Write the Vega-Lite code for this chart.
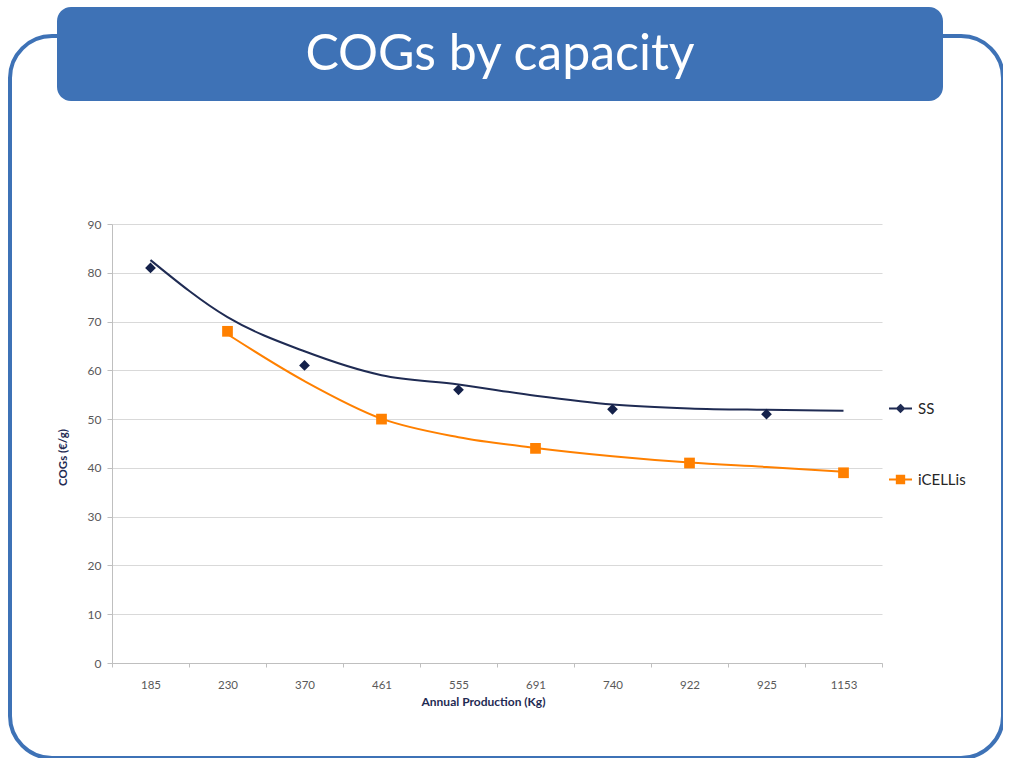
{
  "$schema": "https://vega.github.io/schema/vega-lite/v6.json",
  "background": "white",
  "padding": {"left": 10, "top": 7, "right": 0, "bottom": 0},
  "datasets": {
    "header": [{"title": "COGs by capacity"}],
    "points": [
      {"series": "SS", "production": "185", "cogs": 81},
      {"series": "SS", "production": "370", "cogs": 61},
      {"series": "SS", "production": "555", "cogs": 56},
      {"series": "SS", "production": "740", "cogs": 52},
      {"series": "SS", "production": "925", "cogs": 51},
      {"series": "iCELLis", "production": "230", "cogs": 68},
      {"series": "iCELLis", "production": "461", "cogs": 50},
      {"series": "iCELLis", "production": "691", "cogs": 44},
      {"series": "iCELLis", "production": "922", "cogs": 41},
      {"series": "iCELLis", "production": "1153", "cogs": 39}
    ],
    "trend": [
      {"series": "SS", "production": "185", "cogs": 82.6},
      {"series": "SS", "production": "230", "cogs": 70.9},
      {"series": "SS", "production": "370", "cogs": 63.9},
      {"series": "SS", "production": "461", "cogs": 59.0},
      {"series": "SS", "production": "555", "cogs": 57.1},
      {"series": "SS", "production": "691", "cogs": 54.8},
      {"series": "SS", "production": "740", "cogs": 53.0},
      {"series": "SS", "production": "922", "cogs": 52.2},
      {"series": "SS", "production": "925", "cogs": 51.9},
      {"series": "SS", "production": "1153", "cogs": 51.7},
      {"series": "iCELLis", "production": "230", "cogs": 67.4},
      {"series": "iCELLis", "production": "370", "cogs": 57.8},
      {"series": "iCELLis", "production": "461", "cogs": 50.1},
      {"series": "iCELLis", "production": "555", "cogs": 46.3},
      {"series": "iCELLis", "production": "691", "cogs": 44.1},
      {"series": "iCELLis", "production": "740", "cogs": 42.4},
      {"series": "iCELLis", "production": "922", "cogs": 41.1},
      {"series": "iCELLis", "production": "925", "cogs": 40.2},
      {"series": "iCELLis", "production": "1153", "cogs": 39.2}
    ]
  },
  "width": 993,
  "height": 722,
  "view": {"stroke": "#3E72B6", "strokeWidth": 4, "cornerRadius": 42, "fill": null},
  "layer": [
    {
      "data": {"name": "header"},
      "encoding": {
        "x": {"field": "title", "type": "nominal", "scale": {"type": "band", "range": [47, 933], "paddingInner": 0, "paddingOuter": 0}, "axis": null},
        "y": {"field": "title", "type": "nominal", "scale": {"type": "band", "range": [-29, 65], "paddingInner": 0, "paddingOuter": 0}, "axis": null}
      },
      "layer": [
        {"mark": {"type": "rect", "color": "#3E72B6", "cornerRadius": 14}},
        {"mark": {"type": "text", "font": "Lato", "fontSize": 50, "color": "white", "baseline": "middle", "align": "center", "dy": 1}, "encoding": {"text": {"field": "title"}}}
      ]
    },
    {
      "layer": [
        {
          "data": {"name": "trend"},
          "mark": {"type": "line", "interpolate": "monotone", "strokeWidth": 2},
          "encoding": {
            "x": {
              "field": "production", "type": "ordinal",
              "sort": ["185", "230", "370", "461", "555", "691", "740", "922", "925", "1153"],
              "scale": {"type": "band", "range": [102, 872], "paddingInner": 0, "paddingOuter": 0},
              "axis": {
                "offset": -95, "title": "Annual Production (Kg)", "titleFont": "Lato", "titleFontSize": 12, "titleFontWeight": "bold", "titleColor": "#1F2B53",
                "titlePadding": 6, "titleX": 473,
                "labelAngle": 0, "labelFont": "Lato", "labelFontSize": 11.5, "labelColor": "#595959", "labelPadding": 12,
                "tickBand": "extent", "tickSize": 4, "tickColor": "#BFBFBF", "domainColor": "#BFBFBF", "grid": false
              }
            },
            "y": {
              "field": "cogs", "type": "quantitative",
              "scale": {"domain": [0, 90], "range": [627, 188], "nice": false, "zero": false},
              "axis": {
                "offset": -102, "values": [0, 10, 20, 30, 40, 50, 60, 70, 80, 90],
                "title": "COGs (€/g)", "titleFont": "Lato", "titleFontSize": 11.5, "titleFontWeight": "bold", "titleColor": "#1F2B53",
                "titlePadding": 19, "titleY": 421,
                "labelFont": "Lato", "labelFontSize": 12, "labelColor": "#595959", "labelPadding": 6,
                "tickSize": 5, "tickColor": "#BFBFBF", "domainColor": "#BFBFBF", "grid": true, "gridColor": "#D9D9D9"
              }
            },
            "stroke": {
              "field": "series", "type": "nominal",
              "scale": {"range": ["#1F2B53", "#FF8000"]},
              "legend": null
            }
          }
        },
        {
          "data": {"name": "points"},
          "transform": [{"filter": "datum.series === 'SS'"}],
          "mark": {"type": "point", "shape": "diamond", "filled": true, "opacity": 1, "size": 115, "color": "#14214A"},
          "encoding": {
            "x": {"field": "production", "type": "ordinal", "sort": ["185", "230", "370", "461", "555", "691", "740", "922", "925", "1153"]},
            "y": {"field": "cogs", "type": "quantitative"}
          }
        },
        {
          "data": {"name": "points"},
          "transform": [{"filter": "datum.series === 'iCELLis'"}],
          "mark": {"type": "point", "shape": "square", "filled": true, "opacity": 1, "size": 115, "color": "#FF8000"},
          "encoding": {
            "x": {"field": "production", "type": "ordinal", "sort": ["185", "230", "370", "461", "555", "691", "740", "922", "925", "1153"]},
            "y": {"field": "cogs", "type": "quantitative"}
          }
        },
        {
          "data": {"name": "points"},
          "mark": {"type": "point", "filled": false, "opacity": 0, "size": 529, "strokeWidth": 2},
          "encoding": {
            "x": {"field": "production", "type": "ordinal", "sort": ["185", "230", "370", "461", "555", "691", "740", "922", "925", "1153"]},
            "y": {"field": "cogs", "type": "quantitative"},
            "color": {
              "field": "series", "type": "nominal",
              "scale": {"domain": ["SS", "iCELLis"], "range": ["#1F2B53", "#FF8000"]},
              "legend": {
                "orient": "none", "legendX": 878, "legendY": 360, "title": null, "padding": 0,
                "symbolSize": 529, "symbolStrokeWidth": 2, "symbolOpacity": 1, "rowPadding": 50, "labelOffset": 5,
                "labelFont": "Lato", "labelFontSize": 15, "labelColor": "#262626"
              }
            },
            "shape": {
              "field": "series", "type": "nominal",
              "scale": {"domain": ["SS", "iCELLis"], "range": [
                "M-1,0H1M0,-0.3L0.3,0L0,0.3L-0.3,0ZM0,-0.15L0.15,0L0,0.15L-0.15,0Z",
                "M-1,0H1M-0.32,-0.32H0.32V0.32H-0.32ZM-0.16,-0.16H0.16V0.16H-0.16Z"
              ]},
              "legend": {
                "orient": "none", "legendX": 878, "legendY": 360, "title": null, "padding": 0,
                "symbolSize": 529, "symbolStrokeWidth": 2, "symbolOpacity": 1, "rowPadding": 50, "labelOffset": 5,
                "labelFont": "Lato", "labelFontSize": 15, "labelColor": "#262626"
              }
            }
          }
        }
      ]
    }
  ],
  "resolve": {"scale": {"x": "independent", "y": "independent"}, "axis": {"x": "independent", "y": "independent"}}
}
